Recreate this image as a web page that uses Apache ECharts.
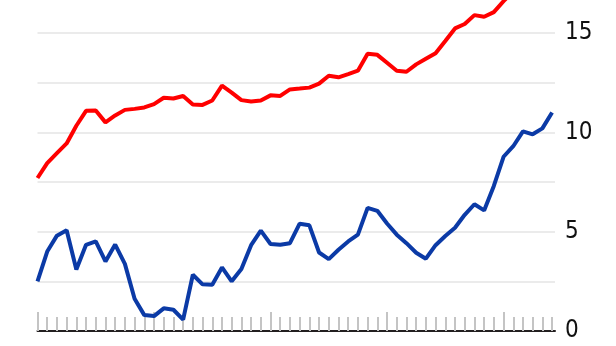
<!DOCTYPE html>
<html>
<head>
<meta charset="utf-8">
<script src="https://cdn.jsdelivr.net/npm/echarts@6/dist/echarts.min.js"></script>
<style>
html,body{margin:0;padding:0;background:#fff;}
#chart{width:616px;height:346px;}
</style>
</head>
<body>
<div id="chart"></div>
<script>
// Month index (0 = first month on the axis)
var months = [];
for (var i = 0; i < 54; i++) months.push(i);

var redSeries = [7.7, 8.45, 8.95, 9.44, 10.33, 11.08, 11.1, 10.5, 10.85, 11.13,
  11.18, 11.25, 11.42, 11.74, 11.7, 11.83, 11.4, 11.38, 11.6, 12.35,
  12.0, 11.62, 11.55, 11.6, 11.86, 11.83, 12.16, 12.2, 12.25, 12.45,
  12.85, 12.77, 12.93, 13.1, 13.95, 13.9, 13.5, 13.1, 13.05, 13.42,
  13.7, 13.98, 14.6, 15.23, 15.45, 15.9, 15.82, 16.05, 16.6, 17.1,
  17.5, 17.9, 18.3, 18.7];

var blueSeries = [2.5, 4.0, 4.8, 5.07, 3.1, 4.34, 4.51, 3.5, 4.35, 3.38,
  1.62, 0.8, 0.75, 1.14, 1.07, 0.57, 2.83, 2.35, 2.33, 3.2,
  2.5, 3.12, 4.32, 5.05, 4.38, 4.34, 4.42, 5.4, 5.32, 3.95,
  3.62, 4.09, 4.51, 4.85, 6.2, 6.05, 5.41, 4.85, 4.42, 3.94,
  3.64, 4.32, 4.78, 5.2, 5.85, 6.38, 6.07, 7.3, 8.77, 9.3,
  10.05, 9.9, 10.2, 11.0];

var yLabels = [0, 5, 10, 15];
var yearTicks = months.filter(function (m) { return m % 12 === 0; });
var monthTicks = months.filter(function (m) { return m % 12 !== 0; });

var xMax = 53.3;
var yMax = 16.66;

function pairs(arr) { return arr.map(function (v, i) { return [months[i], v]; }); }

var chart = echarts.init(document.getElementById('chart'), null, {renderer: 'canvas'});
var baseX = {
  type: 'value', min: 0, max: xMax, gridIndex: 0,
  axisLabel: {show: false}, splitLine: {show: false}
};
chart.setOption({
  animation: false,
  grid: {left: 37.5, right: 61, top: 0, bottom: 15, containLabel: false},
  xAxis: [
    Object.assign({}, baseX, {
      position: 'bottom',
      axisLine: {show: true, onZero: false, lineStyle: {color: '#231f20', width: 2}},
      axisTick: {show: false}
    }),
    Object.assign({}, baseX, {
      position: 'bottom',
      axisLine: {show: false, onZero: false},
      axisTick: {show: true, inside: true, length: 14, customValues: monthTicks,
        lineStyle: {color: '#c4c4c4', width: 2}}
    }),
    Object.assign({}, baseX, {
      position: 'bottom',
      axisLine: {show: false, onZero: false},
      axisTick: {show: true, inside: true, length: 19, customValues: yearTicks,
        lineStyle: {color: '#c4c4c4', width: 2}}
    })
  ],
  yAxis: {
    type: 'value', position: 'right', min: 0, max: yMax, interval: 2.5,
    axisLine: {show: false}, axisTick: {show: false},
    axisLabel: {
      customValues: yLabels, margin: 10, color: '#111111',
      fontSize: 24, fontFamily: 'DejaVu Sans Condensed'
    },
    splitLine: {show: true, showMaxLine: false, showMinLine: false,
      lineStyle: {color: '#ebebeb', width: 2}}
  },
  series: [
    {type: 'line', data: pairs(redSeries), xAxisIndex: 0, showSymbol: false, clip: true,
      lineStyle: {color: '#ff0000', width: 4}, itemStyle: {color: '#ff0000'}, z: 3},
    {type: 'line', data: pairs(blueSeries), xAxisIndex: 0, showSymbol: false, clip: true,
      lineStyle: {color: '#0b3aa6', width: 4}, itemStyle: {color: '#0b3aa6'}, z: 3}
  ]
});
</script>
</body>
</html>
